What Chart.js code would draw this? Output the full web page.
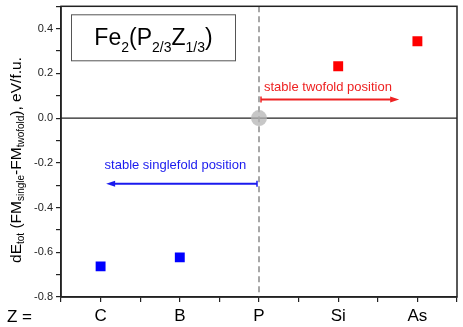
<!DOCTYPE html>
<html lang="en">

<head>
    <meta charset="UTF-8">
    <script src="https://cdn.jsdelivr.net/npm/chart.js@4"></script>
    <title>Fe2(P2/3Z1/3)</title>
    <style>
        html, body { margin: 0; padding: 0; background: #fff; }
        #box { width: 463px; height: 327px; }
    </style>
</head>

<body>
    <div id="box">
        <canvas id="dE"></canvas>
    </div>
</body>

</html>
<script>
    // categories along x (Z element)
    const categories = ['C', 'B', 'P', 'Si', 'As'];
    // dE values, eV/f.u.
    const singlefoldZ = ['C', 'B'];
    const singlefoldValues = [-0.663, -0.623];
    const twofoldZ = ['Si', 'As'];
    const twofoldValues = [0.232, 0.344];
    const referenceZ = ['P'];
    const referenceValues = [0.0];
    const yTickLabels = [-0.8, -0.6, -0.4, -0.2, 0.0, 0.2, 0.4];

    const pos = z => categories.indexOf(z) + 1;
    const toPoints = (zs, vals) => zs.map((z, i) => ({ x: pos(z), y: vals[i] }));

    const font = '"Liberation Sans", Arial, sans-serif';

    function subText(ctx, parts, x, y, big, small) {
        // parts: [text, isSub]; draws left to right, returns width
        let cx = x;
        parts.forEach(p => {
            ctx.font = (p[1] ? small : big) + 'px ' + font;
            ctx.fillText(p[0], cx, y + (p[1] ? big * 0.3 : 0));
            cx += ctx.measureText(p[0]).width;
        });
        return cx - x;
    }
    function measureSub(ctx, parts, big, small) {
        let w = 0;
        parts.forEach(p => {
            ctx.font = (p[1] ? small : big) + 'px ' + font;
            w += ctx.measureText(p[0]).width;
        });
        return w;
    }

    function arrow(ctx, x1, x2, y, color) {
        const dir = x2 > x1 ? 1 : -1;
        ctx.strokeStyle = color;
        ctx.fillStyle = color;
        ctx.lineWidth = 2;
        ctx.beginPath();
        ctx.moveTo(x1, y);
        ctx.lineTo(x2 - dir * 6, y);
        ctx.stroke();
        ctx.lineWidth = 1.5;
        ctx.beginPath();
        ctx.moveTo(x1, y - 3);
        ctx.lineTo(x1, y + 3);
        ctx.stroke();
        ctx.beginPath();
        ctx.moveTo(x2, y);
        ctx.lineTo(x2 - dir * 9, y - 3);
        ctx.lineTo(x2 - dir * 9, y + 3);
        ctx.closePath();
        ctx.fill();
    }

    const decor = {
        id: 'decor',
        beforeDatasetsDraw(chart) {
            const { ctx, chartArea: a, scales: { x, y } } = chart;
            ctx.save();
            // zero line
            ctx.strokeStyle = '#222';
            ctx.lineWidth = 1.2;
            ctx.beginPath();
            ctx.moveTo(a.left, y.getPixelForValue(0));
            ctx.lineTo(a.right, y.getPixelForValue(0));
            ctx.stroke();
            // dashed line at P
            const px = x.getPixelForValue(pos('P'));
            ctx.strokeStyle = '#8a8a8a';
            ctx.lineWidth = 1.5;
            ctx.setLineDash([6, 4]);
            ctx.beginPath();
            ctx.moveTo(px, a.top);
            ctx.lineTo(px, a.bottom);
            ctx.stroke();
            ctx.setLineDash([]);
            ctx.restore();
        },
        afterDraw(chart) {
            const { ctx, chartArea: a, scales: { x, y } } = chart;
            ctx.save();
            // frame
            ctx.strokeStyle = '#222';
            ctx.lineWidth = 1.5;
            ctx.strokeRect(a.left, a.top, a.right - a.left, a.bottom - a.top);

            // title box
            ctx.lineWidth = 1;
            ctx.strokeStyle = '#555';
            ctx.strokeRect(a.left + 10.5, a.top + 8.5, 164, 46);
            ctx.fillStyle = '#000';
            ctx.textBaseline = 'alphabetic';
            const tParts = [['Fe', 0], ['2', 1], ['(P', 0], ['2/3', 1], ['Z', 0], ['1/3', 1], [')', 0]];
            const tw = measureSub(ctx, tParts, 23, 14);
            subText(ctx, tParts, a.left + 10.5 + 82 - tw / 2, a.top + 39, 23, 14);

            // arrows
            const px = x.getPixelForValue(pos('P'));
            const ry = y.getPixelForValue(0.083);
            arrow(ctx, px + 2, x.getPixelForValue(4.77), ry, '#ee2222');
            const by = y.getPixelForValue(-0.294);
            arrow(ctx, px - 2, x.getPixelForValue(1.07), by, '#1a1aee');
            ctx.font = '13px ' + font;
            ctx.textBaseline = 'middle';
            ctx.fillStyle = '#ee2222';
            ctx.fillText('stable twofold position', px + 5, y.getPixelForValue(0.137));
            ctx.fillStyle = '#1a1aee';
            ctx.fillText('stable singlefold position', x.getPixelForValue(1.05), y.getPixelForValue(-0.21));

            // y axis title
            ctx.fillStyle = '#000';
            ctx.textBaseline = 'middle';
            const yParts = [['dE', 0], ['tot', 1], [' (FM', 0], ['single', 1], ['-FM', 0], ['twofold', 1], ['), eV/f.u.', 0]];
            const yw = measureSub(ctx, yParts, 15.5, 10);
            ctx.translate(17, 160);
            ctx.rotate(-Math.PI / 2);
            subText(ctx, yParts, -yw / 2, 0, 15.5, 10);
            ctx.restore();

            // "Z =" label
            ctx.save();
            ctx.font = '17px ' + font;
            ctx.fillStyle = '#000';
            ctx.textBaseline = 'middle';
            ctx.fillText('Z =', 7, a.bottom + 20);
            ctx.restore();
        }
    };

    new Chart(document.getElementById('dE'), {
        type: 'scatter',
        data: {
            datasets: [{
                data: toPoints(referenceZ, referenceValues),
                pointStyle: 'circle',
                pointRadius: 8,
                backgroundColor: 'rgba(180,180,180,0.75)',
                borderWidth: 0
            }, {
                data: toPoints(singlefoldZ, singlefoldValues),
                pointStyle: 'rect',
                pointRadius: 7,
                backgroundColor: '#0000ff',
                borderWidth: 0
            }, {
                data: toPoints(twofoldZ, twofoldValues),
                pointStyle: 'rect',
                pointRadius: 7,
                backgroundColor: '#ff0000',
                borderWidth: 0
            }]
        },
        options: {
            responsive: true,
            maintainAspectRatio: false,
            animation: false,
            layout: { autoPadding: false, padding: { top: 4, right: 6, left: 0, bottom: 0 } },
            plugins: { legend: { display: false }, tooltip: { enabled: false } },
            scales: {
                x: {
                    type: 'linear',
                    min: 0.5,
                    max: 5.5,
                    afterFit: s => { s.height = 30; },
                    afterBuildTicks: s => {
                        s.ticks = [];
                        for (let v = 0.5; v <= 5.5; v += 0.5) s.ticks.push({ value: v });
                    },
                    ticks: {
                        autoSkip: false,
                        maxRotation: 0,
                        padding: 4,
                        color: '#000',
                        font: { family: font, size: 17 },
                        callback: v => Number.isInteger(v) ? categories[v - 1] : ''
                    },
                    grid: { drawOnChartArea: false, drawTicks: true, tickLength: 5, color: '#222', lineWidth: 1.2 },
                    border: { color: '#222', width: 1.5 }
                },
                y: {
                    min: -0.8,
                    max: 0.5,
                    afterFit: s => { s.width = 61; },
                    afterBuildTicks: s => {
                        s.ticks = [];
                        for (let i = -8; i <= 5; i++) s.ticks.push({ value: i / 10 });
                    },
                    ticks: {
                        autoSkip: false,
                        padding: 3,
                        color: '#222',
                        font: { family: font, size: 11, lineHeight: 0.6 },
                        callback: v => {
                            const m = yTickLabels.find(t => Math.abs(t - v) < 1e-6);
                            return m === undefined ? '' : m.toFixed(1);
                        }
                    },
                    grid: { drawOnChartArea: false, drawTicks: true, tickLength: 5, color: '#222', lineWidth: 1.2 },
                    border: { color: '#222', width: 1.5 }
                }
            }
        },
        plugins: [decor]
    });
</script>
